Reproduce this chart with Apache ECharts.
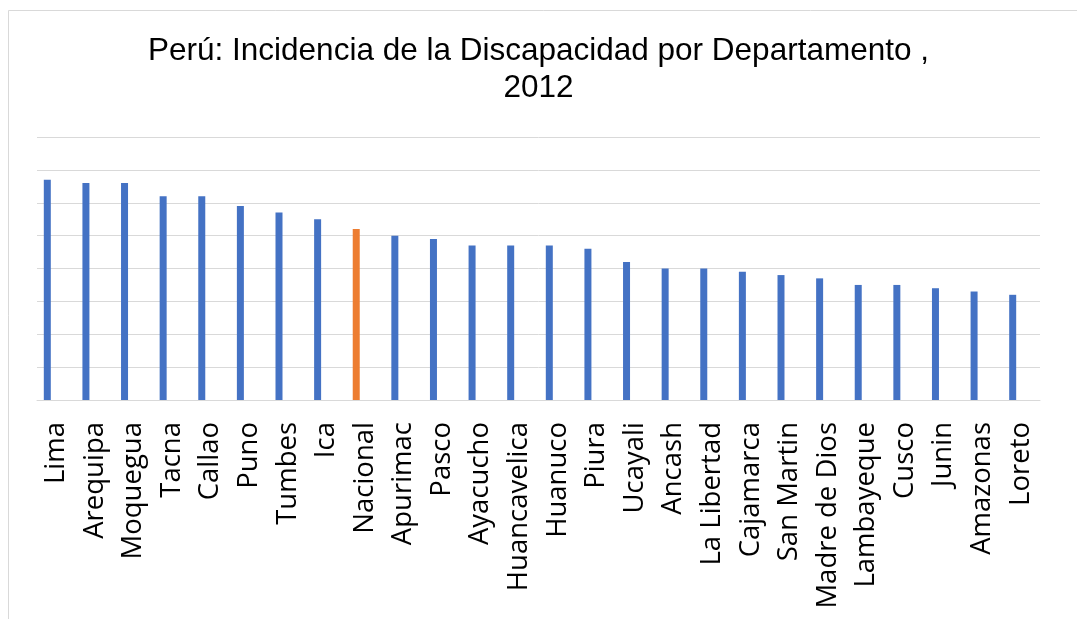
<!DOCTYPE html>
<html>
<head>
<meta charset="utf-8">
<script src="https://cdn.jsdelivr.net/npm/echarts@6/dist/echarts.min.js"></script>
<style>
  html, body { margin: 0; padding: 0; background: #fff; }
  #main { width: 1077px; height: 619px; }
</style>
</head>
<body>
<div id="main"></div>
<script>
// departamentos, ordenados como en el gráfico
var departamentos = ["Lima", "Arequipa", "Moquegua", "Tacna", "Callao", "Puno", "Tumbes", "Ica",
  "Nacional", "Apurimac", "Pasco", "Ayacucho", "Huancavelica", "Huanuco", "Piura", "Ucayali",
  "Ancash", "La Libertad", "Cajamarca", "San Martin", "Madre de Dios", "Lambayeque", "Cusco",
  "Junin", "Amazonas", "Loreto"];
// incidencia (%)
var incidencia = [6.7, 6.6, 6.6, 6.2, 6.2, 5.9, 5.7, 5.5,
  5.2, 5.0, 4.9, 4.7, 4.7, 4.7, 4.6, 4.2,
  4.0, 4.0, 3.9, 3.8, 3.7, 3.5, 3.5,
  3.4, 3.3, 3.2];
var destacado = "Nacional";

var dom = document.getElementById("main");
var myChart = echarts.init(dom, null, { renderer: "canvas" });

var barData = incidencia.map(function (v, i) {
  return {
    value: v,
    itemStyle: { color: departamentos[i] == destacado ? "#ED7D31" : "#4472C4" },
  };
});

var option = {
  backgroundColor: "#fff",
  animation: false,
  title: {
    text: "Perú: Incidencia de la Discapacidad por Departamento ,\n2012",
    left: "center",
    top: 28,
    textStyle: {
      fontFamily: "Liberation Sans",
      fontSize: 31.5,
      fontWeight: "normal",
      color: "#000",
      lineHeight: 37,
      align: "center",
    },
  },
  graphic: [
    {
      type: "rect",
      shape: { x: 8.5, y: 10.5, width: 1200, height: 700 },
      style: { fill: null, stroke: "#d9d9d9", lineWidth: 1 },
      silent: true,
    },
  ],
  grid: [
    // gridlines + etiquetas
    { left: 37, right: 37, top: 137, bottom: 219 },
    // barras
    { left: 28, right: 45, top: 137, bottom: 219 },
  ],
  xAxis: [
    {
      type: "category",
      gridIndex: 0,
      data: departamentos,
      axisTick: { show: false },
      axisLine: { lineStyle: { color: "#d9d9d9", width: 1 } },
      axisLabel: {
        rotate: 90,
        interval: 0,
        margin: 22,
        color: "#000",
        fontFamily: "Open Sans",
        fontSize: 27.5,
      },
    },
    {
      type: "category",
      gridIndex: 1,
      data: departamentos,
      show: false,
    },
  ],
  yAxis: [
    {
      type: "value",
      gridIndex: 0,
      min: 0,
      max: 8,
      interval: 1,
      axisLabel: { show: false },
      axisLine: { show: false },
      axisTick: { show: false },
      splitLine: { lineStyle: { color: "#d9d9d9", width: 1 } },
    },
    {
      type: "value",
      gridIndex: 1,
      min: 0,
      max: 8,
      interval: 1,
      show: false,
      splitLine: { show: false },
    },
  ],
  series: [
    {
      name: "Incidencia",
      type: "bar",
      xAxisIndex: 1,
      yAxisIndex: 1,
      barWidth: 7,
      data: barData,
    },
  ],
};

if (option && typeof option === "object") {
  myChart.setOption(option);
}
window.addEventListener("resize", myChart.resize);
</script>
</body>
</html>
